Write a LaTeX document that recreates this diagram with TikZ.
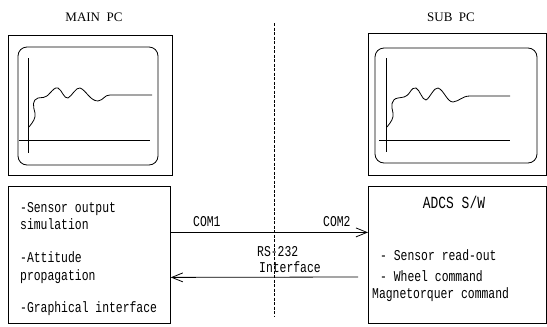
\documentclass[tikz,border=0pt]{standalone}
\usepackage{fontspec}
\setmainfont{Liberation Serif}
\newfontfamily\cf[FakeStretch=0.76]{Liberation Mono}
\usetikzlibrary{arrows.meta}
\tikzset{
  frame/.style={draw, line width=0.8pt, inner sep=0pt, anchor=north west},
  screen/.style={draw, line width=0.8pt, rounded corners=9pt},
  axis/.style={line width=0.8pt},
  plot/.style={line width=0.8pt, line join=round},
  txt/.style={anchor=base west, inner sep=0pt, font=\cf\fontsize{15}{17}\selectfont},
  ttl/.style={anchor=base, inner sep=0pt, font=\fontsize{13}{15}\selectfont},
  link/.style={line width=0.8pt, -{Straight Barb[length=11pt,width=9pt,line width=0.8pt]}},
  sep/.style={line width=0.9pt, dash pattern=on 3pt off 1.5pt}
}
\begin{document}
\begin{tikzpicture}[x=1pt,y=-1pt]
\useasboundingbox (0,0) rectangle (547,327);
% titles
\node[ttl] (tmain) at (94,21) {MAIN\ \ PC};
\node[ttl] (tsub) at (451,21) {SUB\ \ PC};
% monitors
\node[frame, minimum width=164pt, minimum height=140pt] (mainpc) at (8,35) {};
\node[frame, minimum width=178pt, minimum height=142pt] (subpc) at (368,33) {};
\draw[screen] (18,47) rectangle (158,165);
\draw[screen] (375,48) rectangle (537,163);
\draw[axis] (28,58) -- (28,153);
\draw[axis] (19,140) -- (150,140);
\draw[axis] (386,58) -- (386,152);
\draw[axis] (379,140) -- (510,140);
\draw[plot] (29,127) .. controls (33,122) and (36,118) .. (35,113)
  .. controls (33,106) and (32,100) .. (38,98)
  .. controls (42,97) and (45,99) .. (50,93)
  .. controls (53,90) and (55,87) .. (58,88)
  .. controls (62,90) and (64,99) .. (68,98)
  .. controls (72,96) and (76,87) .. (80,88)
  .. controls (86,90) and (90,101) .. (98,101)
  .. controls (104,100) and (104,95) .. (110,95) -- (152,95);
\draw[plot] (387,127) .. controls (391,122) and (394,118) .. (393,113)
  .. controls (391,106) and (391,99) .. (398,98)
  .. controls (403,97) and (406,98) .. (410,92)
  .. controls (412,89) and (414,87) .. (416,88)
  .. controls (420,90) and (422,100) .. (426,100)
  .. controls (430,98) and (434,87) .. (438,88)
  .. controls (444,90) and (447,102) .. (453,102)
  .. controls (460,101) and (462,96) .. (470,96) -- (510,96);
% software boxes
\node[frame, minimum width=162pt, minimum height=137pt] (mainsw) at (8,186) {};
\node[frame, minimum width=178pt, minimum height=137pt] (subsw) at (368,186) {};
\node[txt] (m1) at (20,212) {-Sensor output};
\node[txt] (m2) at (20,229) {simulation};
\node[txt] (m3) at (20,262) {-Attitude};
\node[txt] (m4) at (20,280) {propagation};
\node[txt] (m5) at (20,312) {-Graphical interface};
\node[txt, anchor=base, font=\cf\fontsize{17}{19}\selectfont] (adcs) at (454,208) {ADCS S/W};
\node[txt] (s1) at (380,260) {- Sensor read-out};
\node[txt] (s2) at (380,281) {- Wheel command};
\node[txt] (s3) at (372,298) {Magnetorquer command};
% separator
\coordinate (septop) at (274,23);
\coordinate (sepbot) at (274,317);
\draw[sep] (septop) -- (sepbot);
% links
\node[txt] (com1) at (193,226) {COM1};
\node[txt] (com2) at (323,226) {COM2};
\node[txt] (rs) at (257,256) {RS-232};
\node[txt] (intf) at (259,272) {Interface};
\draw[link] ([yshift=22.5pt]mainsw.east) -- ([yshift=22.5pt]subsw.west);
\coordinate (rsend) at (358,277);
\draw[link] (rsend) -- ([yshift=-22.5pt]mainsw.east);
\end{tikzpicture}
\end{document}
